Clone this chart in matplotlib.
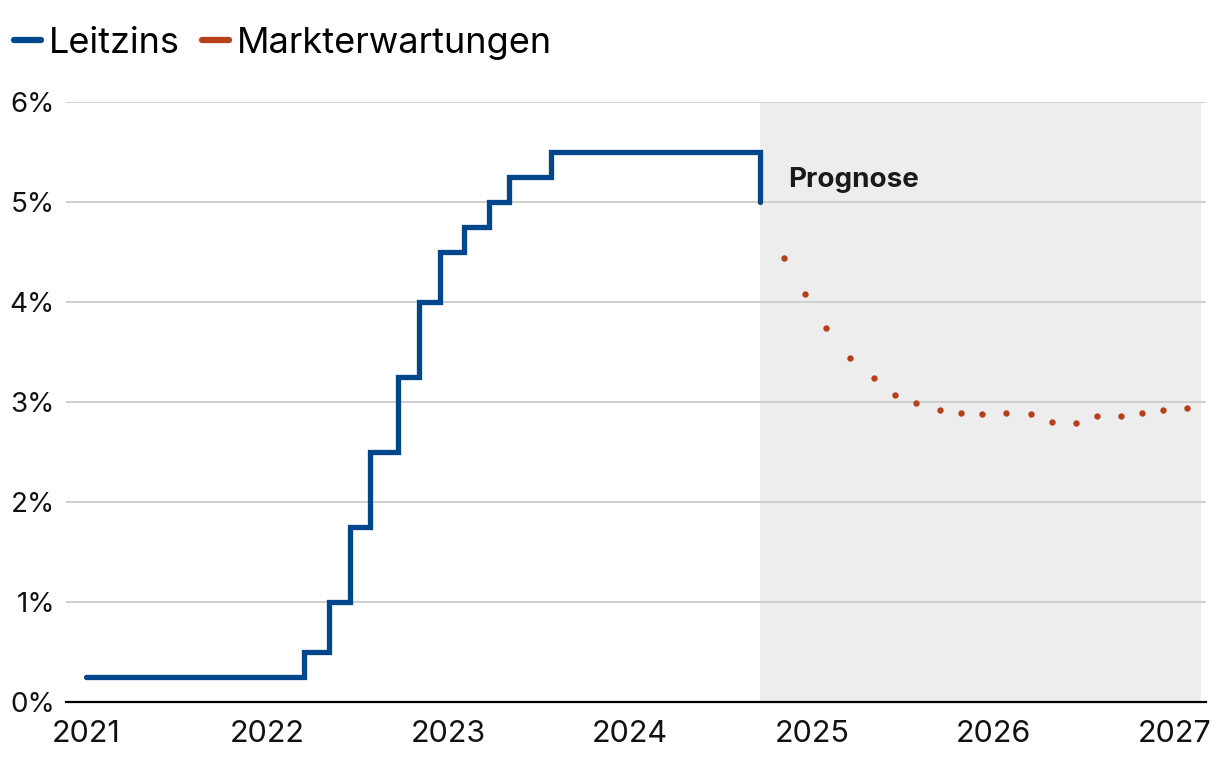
import matplotlib
matplotlib.use("Agg")
import matplotlib.pyplot as plt
import matplotlib.dates as mdates
from matplotlib.lines import Line2D
import pandas as pd

plt.rcParams['font.family'] = ['Inter', 'DejaVu Sans']

# Leitzins (Obergrenze), Stufen ab Datum
leitzins_dates = ['2021-01-01', '2022-03-16', '2022-05-04', '2022-06-15', '2022-07-27',
                  '2022-09-21', '2022-11-02', '2022-12-14', '2023-02-01', '2023-03-22',
                  '2023-05-03', '2023-07-26', '2024-09-18']
leitzins_values = [0.25, 0.5, 1.0, 1.75, 2.5, 3.25, 4.0, 4.5, 4.75, 5.0, 5.25, 5.5, 5.0]

# Markterwartungen je Sitzung
markt_dates = ['2024-11-07', '2024-12-18', '2025-01-29', '2025-03-19', '2025-05-07',
               '2025-06-18', '2025-07-30', '2025-09-17', '2025-10-29', '2025-12-10',
               '2026-01-28', '2026-03-18', '2026-04-29', '2026-06-17', '2026-07-29',
               '2026-09-16', '2026-10-28', '2026-12-09', '2027-01-27']
markt_values = [4.44, 4.08, 3.74, 3.44, 3.24, 3.07, 2.99, 2.92, 2.89, 2.88,
                2.89, 2.88, 2.80, 2.79, 2.86, 2.86, 2.89, 2.92, 2.94]

prognose_start = '2024-09-19'
prognose_end = '2027-02-24'

blue = '#00468b'
orange = '#b5401a'

lz_x = pd.to_datetime(leitzins_dates)
mk_x = pd.to_datetime(markt_dates)

fig = plt.figure(figsize=(12.2, 7.62), dpi=100)
ax = fig.add_axes([66 / 1220, 60 / 762, 1140 / 1220, 600 / 762])

ax.axvspan(pd.Timestamp(prognose_start), pd.Timestamp(prognose_end),
           color='#ededed', zorder=0, lw=0)

ax.step(lz_x, leitzins_values, where='post', color=blue, lw=3.8,
        solid_joinstyle='miter', solid_capstyle='round', zorder=3)
ax.plot(mk_x, markt_values, ls='none', marker='o', ms=4.6, color=orange,
        mec='none', zorder=3)

ax.text(pd.Timestamp('2024-11-14'), 5.22, 'Prognose', fontsize=20,
        fontweight='bold', color='#1a1a1a', va='center', ha='left')

ax.set_ylim(0, 6)
ax.set_xlim(pd.Timestamp('2020-11-21'), pd.Timestamp('2027-03-06'))
ax.set_yticks(range(0, 7))
ax.set_yticklabels([f'{v}%' for v in range(0, 7)])
ax.xaxis.set_major_locator(mdates.YearLocator())
ax.xaxis.set_major_formatter(mdates.DateFormatter('%Y'))

ax.grid(axis='y', color='#cccccc', lw=1.3, zorder=1)
ax.set_axisbelow(True)
for s in ['top', 'right', 'left']:
    ax.spines[s].set_visible(False)
ax.spines['bottom'].set_color('black')
ax.spines['bottom'].set_linewidth(1.6)
ax.spines['bottom'].set_zorder(4)
ax.tick_params(axis='both', length=0, colors='#111111')
ax.tick_params(axis='y', pad=8, labelsize=20)
ax.tick_params(axis='x', pad=13, labelsize=22)

handles = [Line2D([0], [0], color=blue, lw=4.5, solid_capstyle='round'),
           Line2D([0], [0], color=orange, lw=4.5, solid_capstyle='round')]
fig.legend(handles, ['Leitzins', 'Markterwartungen'], loc='upper left',
           bbox_to_anchor=(14 / 1220, 1 - 27 / 762), ncol=2, frameon=False,
           fontsize=26, handlelength=0.75, handletextpad=0.22,
           columnspacing=0.6, borderpad=0, borderaxespad=0)

fig.savefig('out.png', dpi=100)
